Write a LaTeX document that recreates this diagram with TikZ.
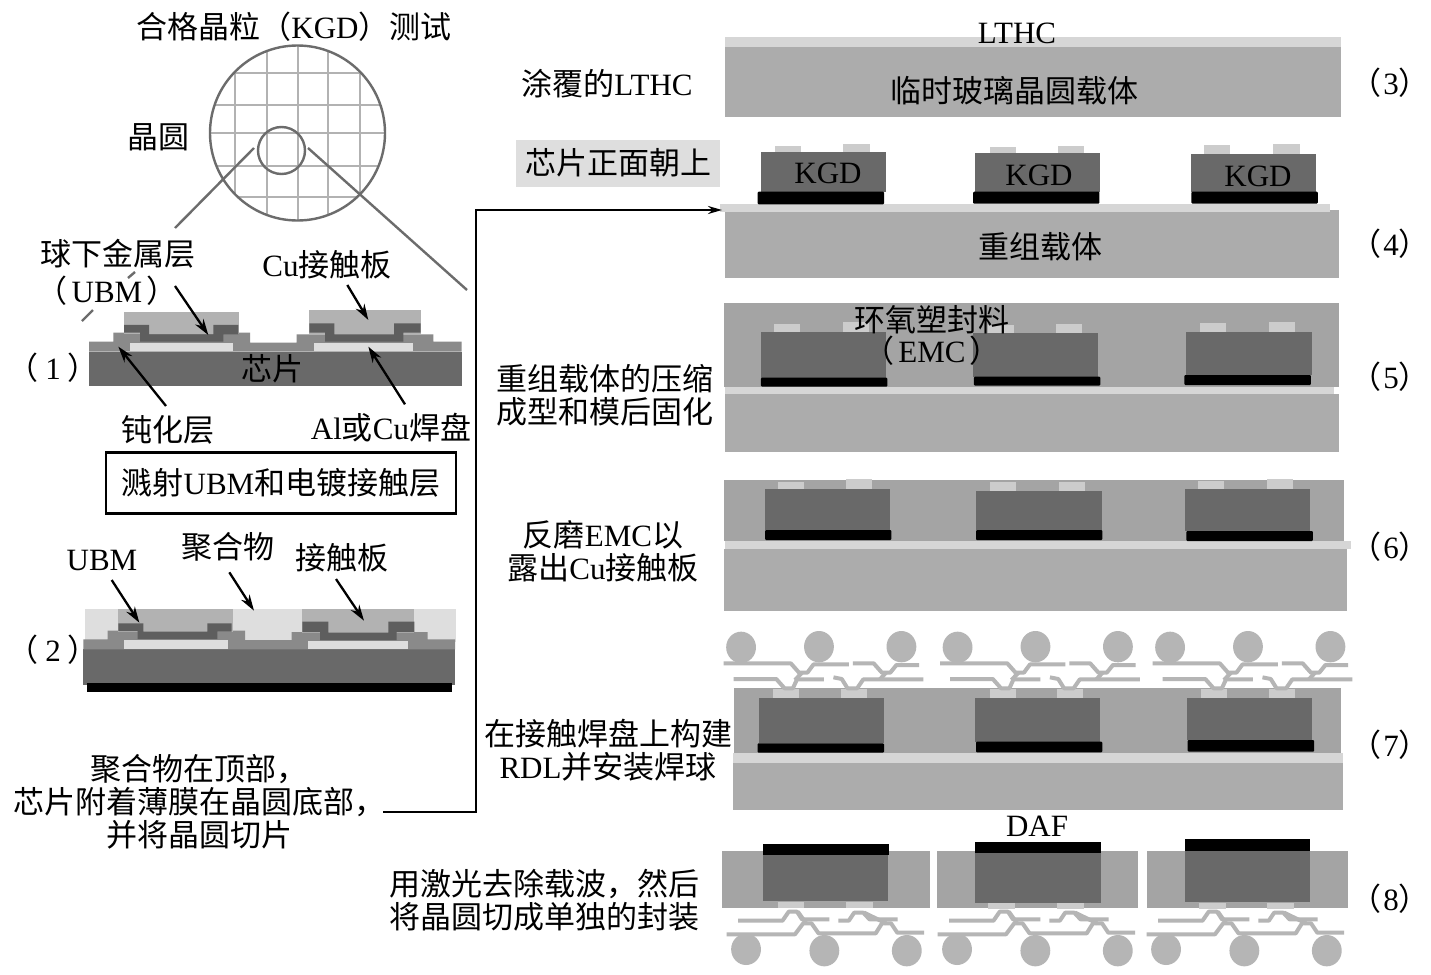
\documentclass[tikz,border=0pt]{standalone}
\usepackage{fontspec}
\setmainfont{Liberation Serif}
\newfontfamily\cjk{Noto Sans CJK SC}
\newcommand\zh[1]{{\cjk #1}}
\newcommand\num[1]{\hspace*{-14pt}\zh{（}\hspace{7pt}#1\hspace{7pt}\zh{）}\hspace*{-14pt}}
\newcommand\numr[1]{\zh{（}\hspace{2pt}#1\zh{）}}
\usetikzlibrary{arrows.meta}
\definecolor{cEmc}{gray}{0.645}
\definecolor{cCar}{gray}{0.675}
\definecolor{cLay}{gray}{0.84}
\definecolor{cDie}{gray}{0.41}
\definecolor{cPad}{gray}{0.80}
\definecolor{cPas}{gray}{0.54}
\definecolor{cUbm}{gray}{0.37}
\definecolor{cPlate}{gray}{0.70}
\definecolor{cLight}{gray}{0.87}
\definecolor{cRdl}{gray}{0.71}
\tikzset{
 txt/.style={font=\fontsize{31}{33}\selectfont,inner sep=0pt,align=center,text=black},
 zoomA/.style={x=0.33333pt,y=-0.33333pt},
 zoomB/.style={x=0.4143pt,y=-0.33333pt},
 callout/.style={draw=black,line width=2.3pt,-{Stealth[length=16pt,width=10pt]}},
 zoomline/.style={draw=gray!85!black,line width=2.4pt},
 grid/.style={draw=cPlate,line width=2pt},
 rdl/.style={draw=cRdl,line width=4pt,line join=bevel},
 ball/.style={fill=cRdl},
 fEmc/.style={fill=cEmc},fCar/.style={fill=cCar},fLay/.style={fill=cLay},
 fDie/.style={fill=cDie},fDaf/.style={fill=black},fPad/.style={fill=cPad},
 fPas/.style={fill=cPas},fUbm/.style={fill=cUbm},fPlate/.style={fill=cPlate},
 fLight/.style={fill=cLight},
}
\newcommand\rct[5]{\fill[#1] (#2,#3) rectangle (#4,#5);}
% die x, die top, die bottom, black x, black bottom, pad1 x, pad1 top, pad2 x, pad2 top
\newcommand\kunit[9]{%
 \fill[fPad] (#6,#7) rectangle ++(63,{#2-#7});
 \fill[fPad] (#8,#9) rectangle ++(63,{#2-#9});
 \fill[fDie] (#1,#2) rectangle ++(302,{#3-#2});
 \fill[fDaf,rounded corners=1pt] (#4,#3) rectangle ++(305,{#5-#3});
}
% RDL above the chip, panel (7), in zoom units
\newcommand\rdlup{%
 \draw[rdl] (33,130)--(195,130)--(215,158)--(235,158)--(250,133)--(335,133);
 \draw[rdl] (345,130)--(395,130)--(415,158)--(435,158)--(450,135)--(505,135);
 \draw[rdl] (57,177)--(160,177)--(180,205)--(200,205)--(210,178)--(275,178);
 \draw[rdl] (298,172)--(318,177)--(332,205)--(355,205)--(370,178)--(515,178);
 \draw[rdl] (222,158)--(205,180);
 \draw[rdl] (425,158)--(410,178);
 \fill[ball] (75,82) ellipse (36 and 47);
 \fill[ball] (263,80) ellipse (36 and 47);
 \fill[ball] (462,80) ellipse (36 and 47);
}
% RDL below the chip, panel (8), in zoom units
\newcommand\rdldown{%
 \draw[rdl] (68,332)--(175,332)--(190,305)--(210,305)--(222,328)--(288,328);
 \draw[rdl] (310,332)--(335,332)--(348,308)--(370,308)--(385,328)--(453,328);
 \draw[rdl] (40,373)--(205,373)--(225,340)--(245,340)--(262,370)--(400,370)--(415,340)--(437,340)--(452,368)--(517,368);
 \draw[rdl] (212,305)--(232,340);
 \draw[rdl] (372,308)--(425,340);
 \fill[ball] (87,418) ellipse (36 and 47);
 \fill[ball] (276,422) ellipse (36 and 47);
 \fill[ball] (475,422) ellipse (36 and 47);
}
\begin{document}
\begin{tikzpicture}[x=1pt,y=-1pt]
\useasboundingbox (0,0) rectangle (1431,974);
\fill[white] (0,0) rectangle (1431,974);

%%% wafer
\begin{scope}
\clip (297.5,133) circle (87.5);
\foreach \g in {235,267,298,328,360} \draw[grid] (\g,40)--(\g,225);
\foreach \g in {73,105,133,166,197} \draw[grid] (205,\g)--(390,\g);
\end{scope}
\draw[zoomline] (297.5,133) circle (87.5);
\draw[zoomline] (281.5,150.5) circle (23.5);
\coordinate (zl1) at (254,148); \coordinate (zl2) at (175,228);
\coordinate (zl3) at (135,272); \coordinate (zl4) at (128,278);
\coordinate (zl5) at (93,310);  \coordinate (zl6) at (82,321);
\coordinate (zr1) at (308,148); \coordinate (zr2) at (467,290);
\draw[zoomline] (zl1)--(zl2);
\draw[zoomline] (zl3)--(zl4);
\draw[zoomline] (zl5)--(zl6);
\draw[zoomline] (zr1)--(zr2);

%%% step 1 cross-section
\begin{scope}[zoomA]
 \rct{fDie}{267}{1055}{1385}{1158}
 \fill[fPas] (267,1055)--(267,1025)--(340,1025)--(340,998)--(750,998)--(750,1028)--(890,1028)--(890,1003)--(1300,1003)--(1300,1025)--(1385,1025)--(1385,1055)--cycle;
 \rct{fLight}{390}{1028}{700}{1052}
 \rct{fLight}{943}{1028}{1240}{1052}
 \fill[fPlate] (372,935) rectangle (717,1003);
 \fill[fPlate] (928,930) rectangle (1262,1003);
 \fill[fUbm] (372,975)--(447,975)--(447,1003)--(640,1003)--(640,975)--(715,975)--(715,1003)--(670,1003)--(670,1025)--(420,1025)--(420,998)--(372,998)--cycle;
 \fill[fUbm] (928,970)--(1003,970)--(1003,1003)--(1182,1003)--(1182,970)--(1262,970)--(1262,998)--(1210,998)--(1210,1025)--(975,1025)--(975,998)--(928,998)--cycle;
 \coordinate (a1s) at (525,858); \coordinate (a1e) at (625,1005);
 \coordinate (a2s) at (1042,855); \coordinate (a2e) at (1105,960);
 \coordinate (a3s) at (498,1218); \coordinate (a3e) at (355,1040);
 \coordinate (a4s) at (1215,1213); \coordinate (a4e) at (1105,1040);
\end{scope}
\draw[callout] (a1s)--(a1e);
\draw[callout] (a2s)--(a2e);
\draw[callout] (a3s)--(a3e);
\draw[callout] (a4s)--(a4e);

%%% step 2 cross-section
\begin{scope}[shift={(60,530)},zoomA]
 \rct{fLight}{75}{237}{1187}{335}
 \rct{fDie}{68}{358}{1185}{465}
 \rct{fDaf}{80}{460}{1175}{485}
 \fill[fPas] (70,358)--(70,328)--(143,328)--(143,302)--(555,302)--(555,330)--(695,330)--(695,306)--(1103,306)--(1103,328)--(1185,328)--(1185,358)--cycle;
 \rct{fLight}{193}{330}{503}{357}
 \rct{fLight}{745}{332}{1043}{358}
 \fill[fPlate] (173,238) rectangle (520,305);
 \fill[fPlate] (727,236) rectangle (1062,308);
 \fill[fUbm] (175,280)--(250,280)--(250,305)--(442,305)--(442,280)--(515,280)--(515,305)--(472,305)--(472,327)--(233,327)--(233,303)--(175,303)--cycle;
 \fill[fUbm] (727,275)--(805,275)--(805,308)--(985,308)--(985,275)--(1063,275)--(1063,306)--(1010,306)--(1010,330)--(780,330)--(780,306)--(727,306)--cycle;
 \coordinate (b1s) at (155,150); \coordinate (b1e) at (238,278);
 \coordinate (b2s) at (508,127); \coordinate (b2e) at (582,242);
 \coordinate (b3s) at (828,147); \coordinate (b3e) at (912,272);
\end{scope}
\draw[callout] (b1s)--(b1e);
\draw[callout] (b2s)--(b2e);
\draw[callout] (b3s)--(b3e);

%%% panel 3
\rct{fLay}{725}{37}{1341}{47}
\rct{fCar}{725}{47}{1341}{117}

%%% panel 4
\fill[fLight] (516,140) rectangle (720,187);
\begin{scope}[shift={(710,130)},zoomB]
 \rct{fCar}{35}{240}{1518}{445}
 \rct{fLay}{25}{222}{1497}{245}
 \kunit{123}{65}{185}{115}{223}{157}{47}{322}{43}
 \kunit{640}{70}{185}{635}{221}{675}{52}{840}{48}
 \kunit{1161}{72}{185}{1162}{221}{1193}{45}{1360}{42}
\end{scope}

%%% panels 5 and 6
\begin{scope}[shift={(710,295)},zoomB]
 \rct{fEmc}{33}{25}{1517}{275}
 \rct{fCar}{35}{298}{1517}{472}
 \rct{fLay}{35}{275}{1507}{298}
 \kunit{122}{112}{248}{123}{275}{155}{87}{320}{82}
 \kunit{635}{115}{245}{637}{272}{670}{90}{835}{87}
 \kunit{1150}{112}{240}{1145}{270}{1183}{85}{1350}{82}
 \rct{fEmc}{33}{555}{1530}{737}
 \rct{fCar}{33}{763}{1537}{948}
 \rct{fLay}{35}{737}{1547}{763}
 \kunit{132}{583}{705}{133}{735}{163}{560}{328}{553}
 \kunit{643}{587}{705}{642}{735}{675}{562}{842}{562}
 \kunit{1146}{582}{708}{1150}{738}{1177}{558}{1344}{552}
\end{scope}

%%% panel 7
\begin{scope}[shift={(710,620)},zoomB]
 \rct{fEmc}{57}{205}{1523}{398}
 \rct{fCar}{55}{430}{1528}{570}
 \rct{fLay}{55}{398}{1528}{430}
 \kunit{118}{235}{370}{115}{398}{152}{208}{317}{208}
 \kunit{640}{235}{365}{642}{397}{675}{208}{838}{208}
 \kunit{1152}{235}{360}{1153}{395}{1185}{208}{1350}{208}
 \rdlup
 \begin{scope}[xshift=216.5pt]\rdlup\end{scope}
 \begin{scope}[xshift=429pt]\rdlup\end{scope}
\end{scope}

%%% panel 8
\begin{scope}[shift={(710,810)},zoomB]
 \rct{fEmc}{28}{123}{530}{295}
 \rct{fEmc}{547}{123}{1032}{295}
 \rct{fEmc}{1055}{123}{1540}{295}
 \rct{fDie}{128}{135}{430}{272}
 \rct{fDaf}{128}{103}{432}{135}
 \rct{fDie}{640}{130}{943}{278}
 \rct{fDaf}{640}{95}{943}{130}
 \rct{fDie}{1146}{122}{1448}{275}
 \rct{fDaf}{1146}{88}{1448}{122}
 \rct{fPad}{163}{275}{228}{295}
 \rct{fPad}{328}{275}{393}{295}
 \rct{fPad}{672}{280}{737}{297}
 \rct{fPad}{838}{280}{903}{297}
 \rct{fPad}{1180}{278}{1245}{296}
 \rct{fPad}{1345}{278}{1410}{296}
 \rdldown
 \begin{scope}[xshift=211pt]\rdldown\end{scope}
 \begin{scope}[xshift=420pt]\rdldown\end{scope}
\end{scope}

%%% labels: wafer and step 1
\node[txt] (title) at (294,27) {\zh{合格晶粒（}KGD\zh{）测试}};
\node[txt] (wafer) at (158,137) {\zh{晶圆}};
\node[txt] (ubmA) at (118,254) {\zh{球下金属层}};
\node[txt] (ubmB) at (107,291) {\zh{（}\hspace{4pt}UBM\hspace{4pt}\zh{）}};
\node[txt] (cuplate) at (327,265) {Cu\zh{接触板}};
\node[txt] (n1) at (53,368) {\num{1}};
\node[txt] (chip) at (272,369) {\zh{芯片}};
\node[txt] (passiv) at (168,430) {\zh{钝化层}};
\node[txt] (alpad) at (391,428) {Al\zh{或}Cu\zh{焊盘}};
\node[txt,draw=black,line width=2.3pt,minimum width=350pt,minimum height=61pt] (sputter) at (281,483) {\zh{溅射}UBM\zh{和电镀接触层}};

%%% labels: step 2
\node[txt] (ubmC) at (102,560) {UBM};
\node[txt] (poly) at (228,547) {\zh{聚合物}};
\node[txt] (plate) at (342,558) {\zh{接触板}};
\node[txt] (n2) at (53,650) {\num{2}};
\node[txt] (dice) at (199,802) {\zh{聚合物在顶部，}\\\zh{芯片附着薄膜在晶圆底部，}\\\zh{并将晶圆切片}};

%%% main connector
\coordinate (capS) at (383,812);
\coordinate (capE) at (722,210);
\draw[draw=black,line width=2.2pt,-{Stealth[length=14pt,width=8pt]}] (capS)--(476,812)--(476,210)--(capE);

%%% labels: right column
\node[txt] (lthc) at (1017,33) {LTHC};
\node[txt] (glass) at (1014,91) {\zh{临时玻璃晶圆载体}};
\node[txt] (coat) at (607,84) {\zh{涂覆的}LTHC};
\node[txt] (faceup) at (618,163) {\zh{芯片正面朝上}};
\node[txt] (k1) at (828,173) {KGD};
\node[txt] (k2) at (1039,175) {KGD};
\node[txt] (k3) at (1258,176) {KGD};
\node[txt] (recon) at (1040,247) {\zh{重组载体}};
\node[txt] (emcA) at (932,320) {\zh{环氧塑封料}};
\node[txt] (emcB) at (932,351) {\zh{（}\hspace{4pt}EMC\hspace{4pt}\zh{）}};
\node[txt] (mold) at (605,395) {\zh{重组载体的压缩}\\\zh{成型和模后固化}};
\node[txt] (grind) at (603,551) {\zh{反磨}EMC\zh{以}\\\zh{露出}Cu\zh{接触板}};
\node[txt] (build) at (608,750) {\zh{在接触焊盘上构建}\\RDL\zh{并安装焊球}};
\node[txt] (daf) at (1037,826) {DAF};
\node[txt] (laser) at (544,900) {\zh{用激光去除载波，然后}\\\zh{将晶圆切成单独的封装}};
\node[txt,anchor=east] (n3) at (1430,83) {\numr{3}};
\node[txt,anchor=east] (n4) at (1430,244) {\numr{4}};
\node[txt,anchor=east] (n5) at (1430,377) {\numr{5}};
\node[txt,anchor=east] (n6) at (1430,547) {\numr{6}};
\node[txt,anchor=east] (n7) at (1430,745) {\numr{7}};
\node[txt,anchor=east] (n8) at (1430,899) {\numr{8}};
\end{tikzpicture}
\end{document}
